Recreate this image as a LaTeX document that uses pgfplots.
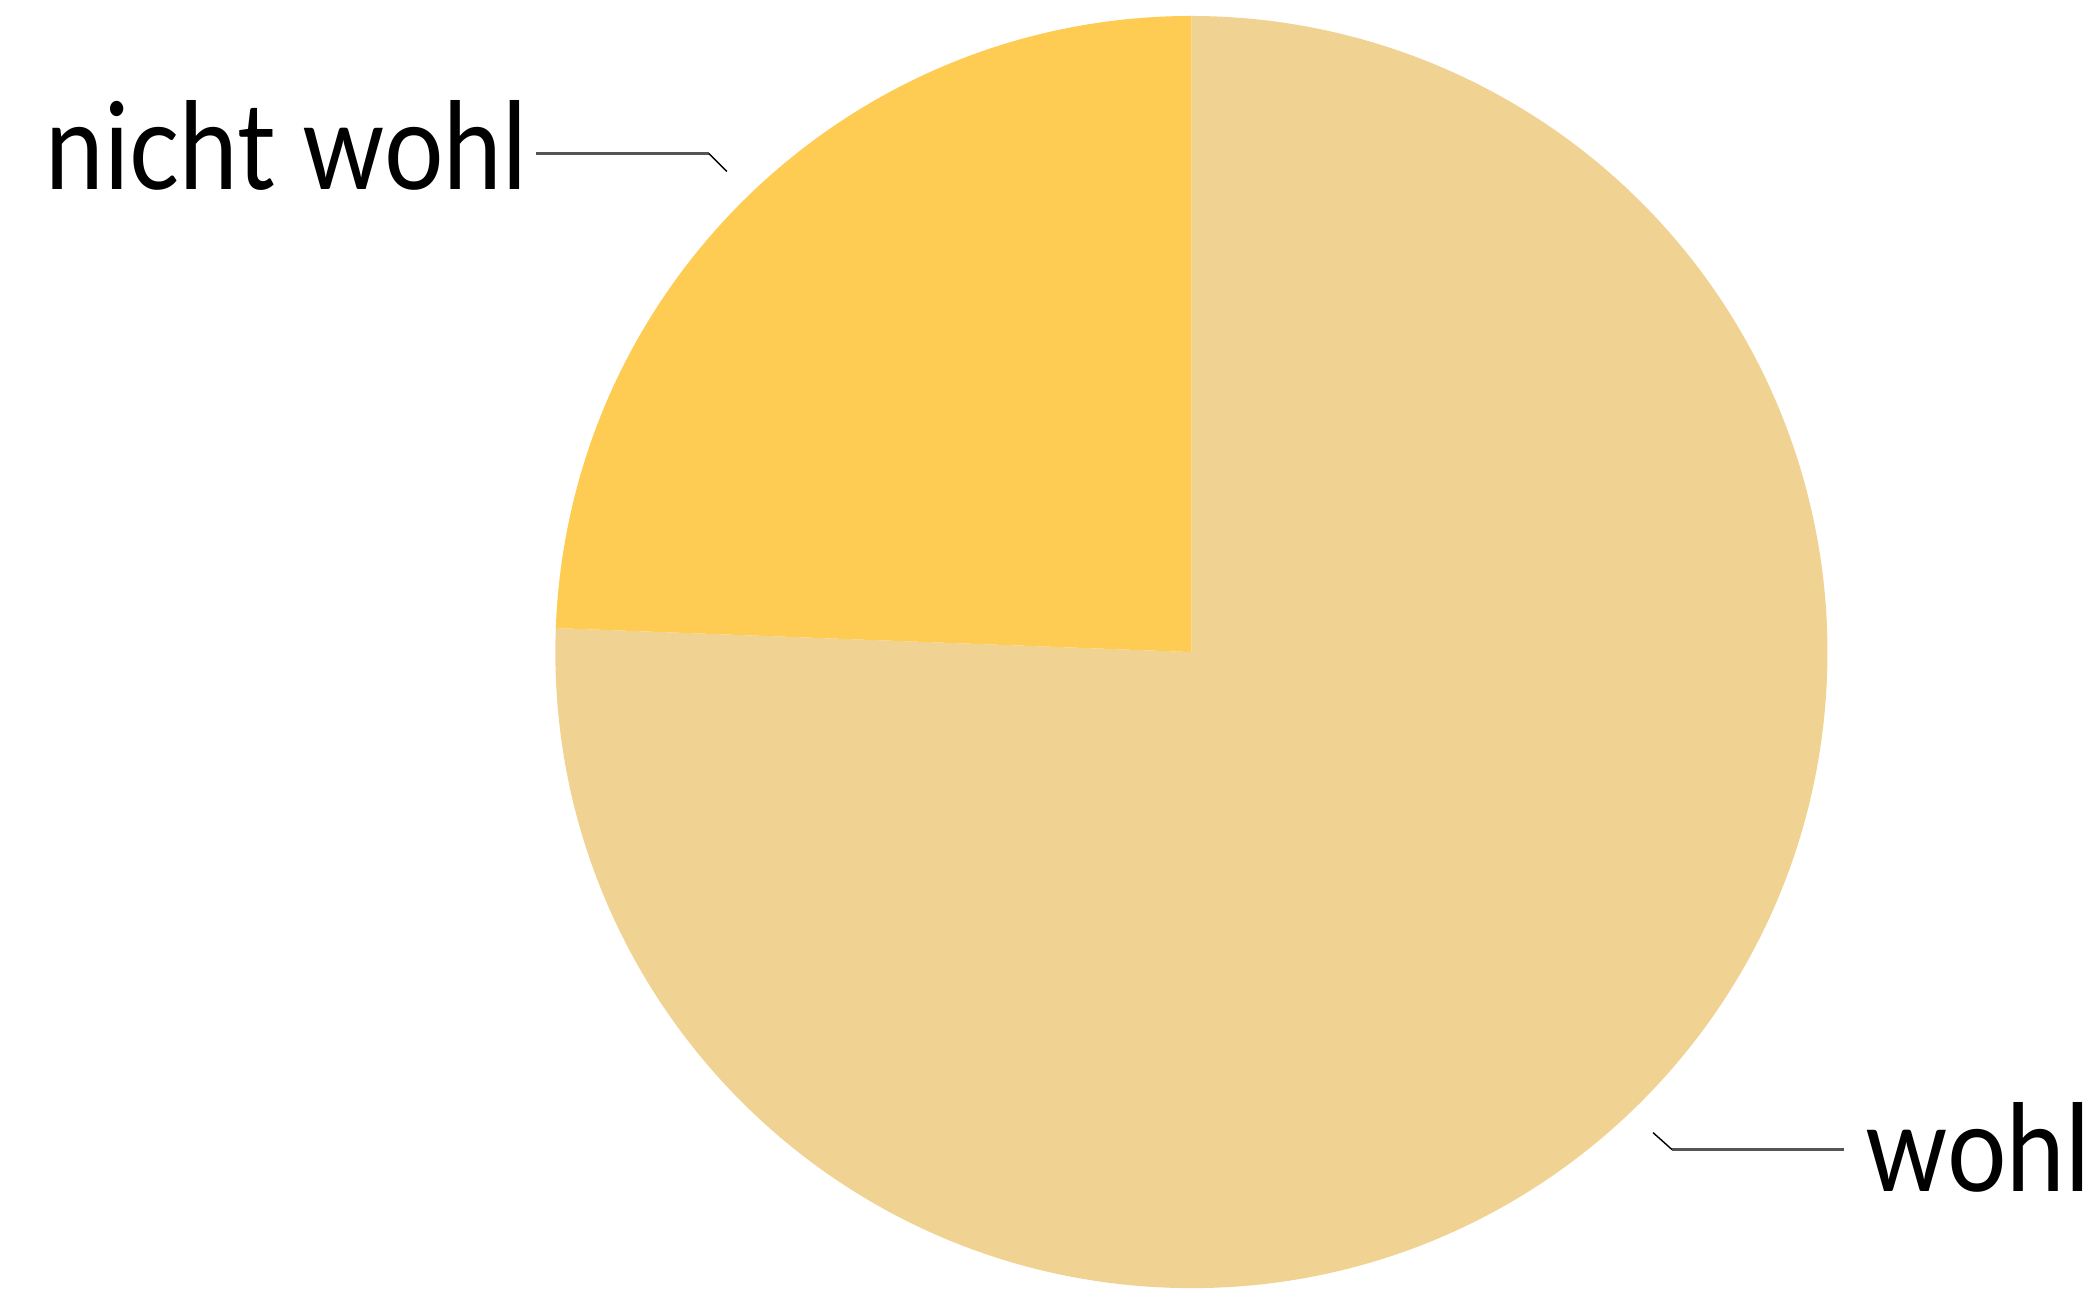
\documentclass[border=0pt]{standalone}
\usepackage{pgfplots}
\usepackage{pgfplotstable}
\usepackage{graphicx}
\usepackage{fontspec}
\setmainfont{Lato}
\pgfplotsset{compat=1.18}

\definecolor{wohlcol}{HTML}{F0D393}
\definecolor{nichtcol}{HTML}{FECB53}
\definecolor{leader}{HTML}{555555}

% share in percent
\pgfplotstableread{
label      value
wohl       75.6
nichtwohl  24.4
}\piedata

\newcommand{\lbl}[1]{\scalebox{1}[1.15]{\fontsize{30}{36}\selectfont #1}}

\begin{document}
\begin{tikzpicture}
\pgfplotstablegetelem{0}{value}\of\piedata \let\vwohl\pgfplotsretval
\pgfplotstablegetelem{1}{value}\of\piedata \let\vnicht\pgfplotsretval
\pgfmathsetmacro{\aend}{90+3.6*\vnicht}
\pgfmathsetmacro{\bend}{\aend+3.6*\vwohl}
\begin{axis}[
    x=0.1mm, y=0.1mm,
    xmin=0, xmax=2090,
    ymin=0, ymax=1292,
    y dir=reverse,
    hide axis,
    clip=false,
    ]
    % keep the full canvas as bounding box
    \path (axis cs:0,0) rectangle (axis cs:2090,1292);

    \fill[wohlcol] (axis cs:1195,654) -- ++(\aend:63.8mm) arc[start angle=\aend, end angle=\bend, radius=63.8mm] -- cycle;
    \fill[nichtcol] (axis cs:1195,654) -- ++(90:63.8mm) arc[start angle=90, end angle=\aend, radius=63.8mm] -- cycle;

    \draw[leader, line width=0.8pt] (axis cs:538,154) -- (axis cs:711,154);
    \draw[black, line width=0.4pt] (axis cs:711,154) -- (axis cs:729,172);
    \draw[leader, line width=0.8pt] (axis cs:1677,1153) -- (axis cs:1850,1153);
    \draw[black, line width=0.4pt] (axis cs:1658,1136) -- (axis cs:1677,1153);

    \node[anchor=base west, inner sep=0pt] at (axis cs:45,190) {\lbl{nicht wohl}};
    \node[anchor=base west, inner sep=0pt] at (axis cs:1870,1195) {\lbl{wohl}};
\end{axis}
\end{tikzpicture}
\end{document}
